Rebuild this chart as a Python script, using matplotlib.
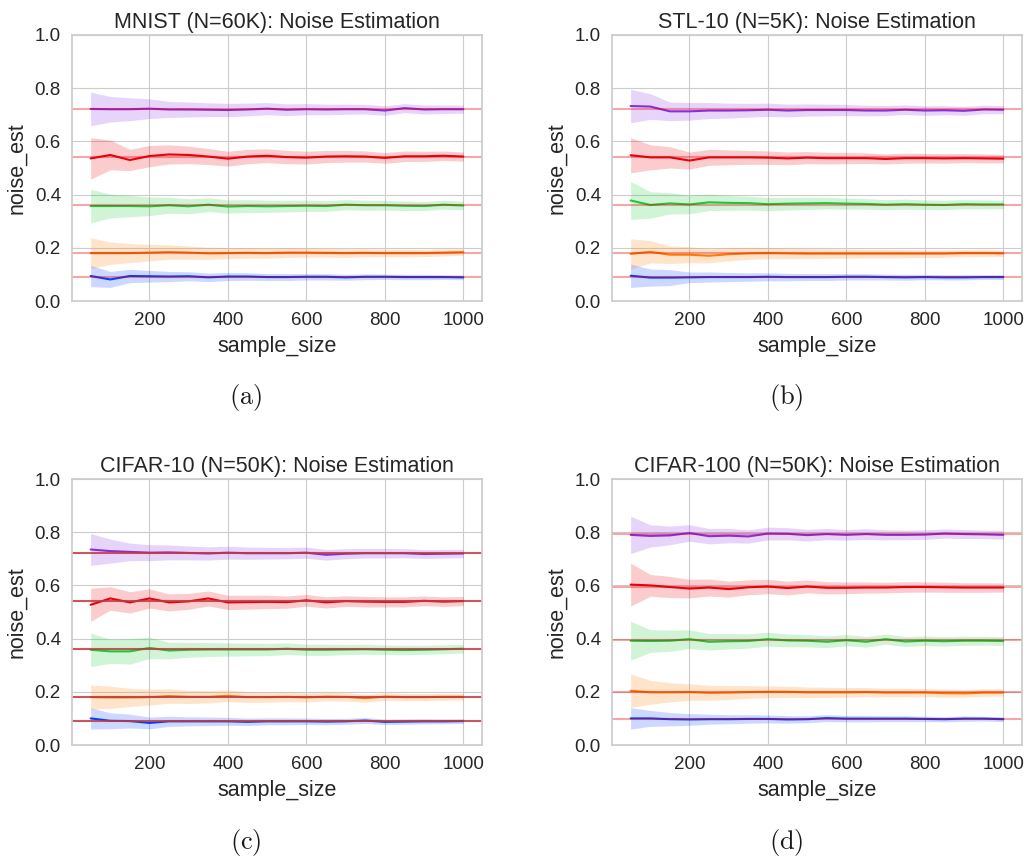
import matplotlib
matplotlib.use("Agg")
import matplotlib.pyplot as plt
import seaborn as sns
import numpy as np

sns.set_style("whitegrid")
plt.rcParams['font.family'] = ['Liberation Sans', 'DejaVu Sans']
plt.rcParams['mathtext.fontset'] = 'cm'

sample_size = list(range(50, 1001, 50))
noise_rates = [0.1, 0.2, 0.4, 0.6, 0.8]
colors = sns.color_palette("bright")
series_colors = [colors[0], colors[1], colors[2], colors[3], colors[4]]

titles = ["MNIST (N=60K): Noise Estimation", "STL-10 (N=5K): Noise Estimation",
          "CIFAR-10 (N=50K): Noise Estimation", "CIFAR-100 (N=50K): Noise Estimation"]
captions = ["(a)", "(b)", "(c)", "(d)"]
n_classes = [10, 10, 10, 100]

# estimated noise (mean) per panel, per noise rate: blue, orange, green, red, purple
mnist_est = [
    [.094, .081, .094, .093, .092, .093, .089, .092, .092, .090, .090, .091, .091, .089, .091, .091, .090, .090, .090, .089],
    [.180, .180, .180, .182, .184, .182, .179, .180, .181, .180, .182, .182, .181, .180, .181, .180, .180, .180, .182, .184],
    [.357, .357, .357, .356, .360, .356, .362, .355, .357, .356, .357, .358, .357, .362, .360, .360, .358, .357, .362, .359],
    [.536, .549, .530, .545, .551, .549, .543, .535, .543, .546, .541, .539, .543, .544, .543, .538, .544, .544, .546, .543],
    [.722, .721, .721, .723, .720, .720, .719, .718, .720, .723, .719, .721, .720, .721, .721, .716, .725, .720, .721, .721],
]
stl_est = [
    [.095, .088, .088, .089, .090, .090, .090, .091, .090, .090, .090, .091, .091, .090, .089, .090, .089, .089, .090, .090],
    [.177, .185, .174, .174, .170, .176, .179, .180, .179, .178, .178, .178, .178, .178, .178, .178, .178, .180, .180, .179],
    [.378, .361, .367, .363, .371, .369, .368, .364, .366, .367, .368, .366, .365, .362, .364, .362, .361, .364, .363, .363],
    [.548, .540, .540, .528, .540, .540, .540, .539, .536, .539, .537, .537, .537, .534, .537, .537, .536, .537, .536, .535],
    [.733, .731, .713, .713, .716, .716, .717, .719, .716, .718, .718, .718, .716, .716, .719, .716, .717, .715, .720, .719],
]
cifar10_est = [
    [.100, .091, .090, .083, .089, .089, .089, .089, .087, .089, .089, .089, .088, .089, .092, .087, .088, .089, .089, .090],
    [.180, .179, .179, .180, .184, .181, .181, .185, .180, .180, .181, .179, .182, .181, .176, .182, .180, .180, .181, .181],
    [.358, .352, .352, .365, .355, .358, .359, .359, .359, .359, .362, .358, .358, .359, .360, .358, .357, .358, .360, .362],
    [.527, .551, .536, .551, .536, .540, .551, .536, .537, .538, .537, .544, .536, .541, .539, .538, .538, .542, .539, .541],
    [.735, .729, .726, .723, .724, .722, .720, .723, .721, .721, .721, .723, .715, .719, .721, .721, .721, .718, .719, .720],
]
cifar100_est = [
    [.100, .100, .097, .096, .097, .097, .098, .098, .096, .097, .101, .099, .099, .099, .099, .098, .097, .099, .099, .097],
    [.204, .198, .198, .199, .196, .197, .199, .200, .200, .198, .198, .198, .199, .197, .197, .197, .195, .194, .197, .197],
    [.392, .391, .392, .398, .388, .390, .391, .398, .393, .392, .388, .394, .388, .398, .389, .392, .390, .392, .392, .391],
    [.603, .600, .594, .588, .592, .586, .593, .596, .590, .596, .591, .591, .592, .592, .594, .594, .593, .592, .592, .592],
    [.790, .786, .788, .797, .785, .787, .784, .795, .794, .789, .793, .790, .793, .790, .790, .791, .795, .793, .792, .790],
]

# half-width of the shaded confidence band
mnist_ci = [
    [.040, .030, .025, .022, .019, .017, .016, .015, .014, .013, .013, .012, .012, .011, .011, .010, .010, .010, .009, .009],
    [.058, .042, .036, .031, .027, .025, .023, .021, .020, .019, .018, .017, .016, .016, .015, .014, .014, .013, .013, .012],
    [.063, .045, .040, .035, .030, .028, .026, .025, .024, .023, .022, .021, .020, .019, .019, .018, .018, .017, .017, .016],
    [.078, .056, .040, .040, .036, .033, .030, .028, .027, .026, .025, .024, .023, .022, .021, .020, .020, .019, .018, .017],
    [.063, .048, .043, .037, .030, .028, .026, .025, .024, .023, .022, .021, .020, .019, .018, .018, .017, .017, .016, .015],
]
stl_ci = [
    [.044, .032, .030, .020, .019, .017, .016, .015, .014, .013, .013, .012, .012, .011, .011, .010, .010, .010, .009, .009],
    [.057, .042, .033, .030, .027, .025, .023, .021, .020, .019, .018, .017, .016, .016, .015, .014, .014, .013, .013, .012],
    [.071, .050, .040, .035, .031, .028, .026, .025, .024, .023, .022, .021, .020, .019, .019, .018, .018, .017, .017, .016],
    [.066, .047, .040, .032, .030, .028, .026, .025, .024, .023, .022, .021, .020, .019, .019, .018, .018, .017, .017, .016],
    [.063, .048, .035, .033, .030, .028, .026, .025, .024, .023, .022, .021, .020, .019, .018, .018, .017, .017, .016, .015],
]
cifar10_ci = [
    [.040, .030, .026, .022, .019, .017, .016, .015, .014, .013, .013, .012, .012, .011, .011, .010, .010, .010, .009, .009],
    [.045, .042, .034, .030, .027, .025, .023, .022, .020, .019, .018, .017, .016, .016, .015, .014, .014, .013, .013, .012],
    [.063, .045, .048, .040, .031, .028, .026, .025, .024, .023, .022, .021, .021, .019, .019, .018, .018, .017, .017, .016],
    [.062, .044, .040, .036, .032, .030, .028, .027, .026, .025, .023, .022, .021, .020, .020, .019, .019, .018, .018, .017],
    [.060, .045, .033, .030, .028, .026, .025, .024, .023, .022, .021, .021, .020, .019, .018, .018, .017, .017, .016, .016],
]
cifar100_ci = [
    [.040, .030, .025, .022, .019, .017, .016, .015, .014, .013, .013, .012, .012, .011, .011, .010, .010, .010, .009, .009],
    [.063, .045, .036, .031, .028, .026, .024, .022, .021, .020, .019, .018, .017, .016, .016, .015, .015, .014, .014, .013],
    [.073, .043, .040, .035, .031, .029, .027, .026, .024, .023, .022, .021, .020, .019, .019, .018, .018, .017, .017, .016],
    [.081, .041, .040, .035, .032, .030, .028, .027, .026, .024, .023, .022, .021, .020, .020, .019, .019, .018, .018, .017],
    [.070, .042, .035, .031, .029, .027, .025, .024, .023, .022, .021, .020, .020, .019, .018, .018, .017, .017, .016, .016],
]

estimates = [mnist_est, stl_est, cifar10_est, cifar100_est]
bands = [mnist_ci, stl_ci, cifar10_ci, cifar100_ci]
true_alpha = [0.35, 0.35, 0.85, 0.35]
true_color = ['#e8000b', '#e8000b', '#c0393f', '#e8000b']

W, H = 1027, 858
fig = plt.figure(figsize=(W / 100, H / 100), dpi=100)

# axes boxes in pixels: left, top, right, bottom
boxes = [(72, 35, 482, 301), (612, 35, 1022, 301), (72, 479, 482, 745), (612, 479, 1022, 745)]
caption_pos = [(246, 398), (786, 398), (246, 843), (786, 843)]

x = np.array(sample_size)
for i in range(4):
    l, t, r, b = boxes[i]
    ax = fig.add_axes([l / W, 1 - b / H, (r - l) / W, (b - t) / H])
    for j in range(5):
        m = np.array(estimates[i][j])
        h = np.array(bands[i][j])
        ax.fill_between(x, m - h, m + h, color=series_colors[j], alpha=0.2, lw=0)
        ax.plot(x, m, color=series_colors[j], lw=1.5)
    for rate in noise_rates:
        ax.axhline(rate * (1 - 1 / n_classes[i]), color=true_color[i], alpha=true_alpha[i], lw=1.5)
    ax.set_ylim(0, 1.0)
    ax.set_xticks([200, 400, 600, 800, 1000])
    ax.set_yticks([0.0, 0.2, 0.4, 0.6, 0.8, 1.0])
    ax.tick_params(labelsize=13.5, pad=8, colors='.15', length=0)
    ax.set_xlabel("sample_size", fontsize=15.5, color='.15', labelpad=5)
    ax.set_ylabel("noise_est", fontsize=15.5, color='.15', labelpad=5)
    ax.set_title(titles[i], fontsize=15.5, color='.15', pad=5)
    for s in ax.spines.values():
        s.set_color('.8')
        s.set_linewidth(1.25)
    cx, cy = caption_pos[i]
    fig.text(cx / W, 1 - cy / H, r"$\mathrm{" + captions[i] + "}$", fontsize=19,
             ha='center', va='center', color='.1')

fig.savefig("out.png", dpi=100)
